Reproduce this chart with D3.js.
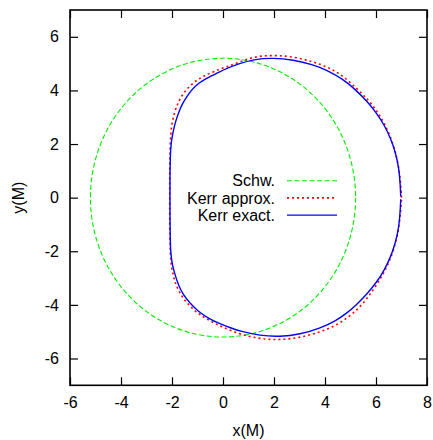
<!doctype html>
<html>
<head>
    <meta charset="utf-8"/>
    <style>
        html, body { margin: 0; padding: 0; background: #fff; }
        svg text { font-family: "Liberation Sans", Arial, sans-serif; font-size: 16px; fill: #000; }
    </style>
    <script src="https://d3js.org/d3.v7.min.js"></script>
</head>
<body>
<svg id="chart" width="433" height="440"></svg>
<script>
    // Orbit data (units of M), counter-clockwise from the right
    var schwRadius = [5.2];

    var kerrApproxX = [7.00, 6.97, 6.90, 6.78, 6.60, 6.36, 6.05, 5.70, 5.25, 4.72, 4.15, 3.54, 2.76, 1.97, 1.19, 0.60, 0.10, -0.35, -0.74, -1.07, -1.35, -1.58, -1.76, -1.90, -2.00, -2.05, -2.08, -2.09, -2.09,
        -2.09, -2.08, -2.05, -1.97, -1.86, -1.70, -1.48, -1.20, -0.88, -0.50, -0.05, 0.67, 1.45, 2.24, 3.02, 3.80, 4.40, 4.90, 5.35, 5.70, 6.05, 6.36, 6.60, 6.78, 6.90, 6.97, 7.00];
    var kerrApproxY = [0.00, 0.50, 1.10, 1.65, 2.20, 2.72, 3.22, 3.64, 4.07, 4.53, 4.86, 5.07, 5.26, 5.32, 5.26, 5.04, 4.87, 4.71, 4.55, 4.36, 4.12, 3.86, 3.55, 3.20, 2.78, 2.40, 1.78, 1.00, 0.00,
        -1.00, -1.78, -2.40, -2.85, -3.22, -3.55, -3.86, -4.14, -4.39, -4.60, -4.82, -5.10, -5.27, -5.31, -5.22, -5.02, -4.78, -4.48, -4.10, -3.70, -3.22, -2.72, -2.20, -1.65, -1.10, -0.50, -0.05];

    var kerrExactX = [6.97, 6.95, 6.90, 6.76, 6.58, 6.33, 6.03, 5.66, 5.20, 4.70, 4.10, 3.50, 2.76, 1.97, 1.19, 0.60, 0.14, -0.20, -0.64, -0.97, -1.23, -1.42, -1.62, -1.75, -1.88, -1.97, -2.04, -2.07, -2.08, -2.08,
        -2.08, -2.07, -2.05, -1.99, -1.88, -1.75, -1.56, -1.29, -0.97, -0.58, -0.12, 0.34, 0.67, 1.45, 2.24, 3.02, 3.80, 4.45, 4.85, 5.20, 5.66, 6.03, 6.33, 6.58, 6.76, 6.90, 6.95, 6.97];
    var kerrExactY = [0.04, 0.50, 1.10, 1.70, 2.20, 2.70, 3.15, 3.58, 4.03, 4.42, 4.75, 4.97, 5.14, 5.22, 5.16, 4.99, 4.82, 4.66, 4.46, 4.27, 4.02, 3.77, 3.46, 3.15, 2.78, 2.40, 2.03, 1.50, 0.75, 0.00,
        -0.75, -1.58, -2.07, -2.51, -2.88, -3.26, -3.63, -3.94, -4.25, -4.50, -4.71, -4.87, -4.98, -5.15, -5.19, -5.10, -4.88, -4.58, -4.31, -4.03, -3.58, -3.15, -2.70, -2.20, -1.70, -1.10, -0.50, -0.06];

    var xTicks = [-6, -4, -2, 0, 2, 4, 6, 8];
    var yTicks = [-6, -4, -2, 0, 2, 4, 6];
    var legendLabels = ["Schw.", "Kerr approx.", "Kerr exact."];

    (function() {
        var svg = d3.select("#chart");
        var mLeft = 70, mRight = 427, mTop = 10, mBottom = 385.3;

        var x = d3.scaleLinear().domain([-6, 8]).range([mLeft, mRight]);
        var y = d3.scaleLinear().domain([-7, 7]).range([mBottom, mTop]);

        var fmt = function(d) { return String(d); };

        // axes: ticks point inward on all four sides, gnuplot style
        var gb = svg.append("g").attr("transform", "translate(0," + mBottom + ")")
            .call(d3.axisBottom(x).tickValues(xTicks).tickSize(-8).tickPadding(11).tickFormat(fmt));
        var gt = svg.append("g").attr("transform", "translate(0," + mTop + ")")
            .call(d3.axisTop(x).tickValues(xTicks).tickSize(-8).tickFormat(""));
        var gl = svg.append("g").attr("transform", "translate(" + mLeft + ",0)")
            .call(d3.axisLeft(y).tickValues(yTicks).tickSize(-8).tickPadding(11).tickFormat(fmt));
        var gr = svg.append("g").attr("transform", "translate(" + mRight + ",0)")
            .call(d3.axisRight(y).tickValues(yTicks).tickSize(-8).tickFormat(""));

        [gb, gt, gl, gr].forEach(function(g) {
            g.select(".domain").remove();
            g.selectAll(".tick line").attr("stroke", "#000").attr("stroke-width", 1.2);
            g.selectAll(".tick text")
                .style("font-family", "'Liberation Sans', Arial, sans-serif")
                .style("font-size", "16px")
                .attr("fill", "#000");
        });

        svg.append("rect")
            .attr("x", mLeft).attr("y", mTop)
            .attr("width", mRight - mLeft).attr("height", mBottom - mTop)
            .attr("fill", "none").attr("stroke", "#000").attr("stroke-width", 1.6);

        // curves
        var plot = svg.append("g");

        plot.selectAll("ellipse.schw")
            .data(schwRadius).enter()
            .append("ellipse")
            .attr("class", "schw")
            .attr("cx", x(0)).attr("cy", y(0))
            .attr("rx", function(r) { return x(r) - x(0); })
            .attr("ry", function(r) { return y(0) - y(r); })
            .attr("fill", "none")
            .attr("stroke", "#00ee00")
            .attr("stroke-width", 1.1)
            .attr("stroke-dasharray", "5,2.5");

        function pts(xs, ys) {
            return xs.map(function(v, i) { return [v, ys[i]]; });
        }

        // B-spline smooths out the small reading errors in the points
        var line = d3.line()
            .x(function(d) { return x(d[0]); })
            .y(function(d) { return y(d[1]); })
            .curve(d3.curveBasis);

        plot.append("path")
            .datum(pts(kerrApproxX, kerrApproxY))
            .attr("d", line)
            .attr("fill", "none")
            .attr("stroke", "#ff0000")
            .attr("stroke-width", 1.6)
            .attr("stroke-dasharray", "2,3");

        plot.append("path")
            .datum(pts(kerrExactX, kerrExactY))
            .attr("d", line)
            .attr("fill", "none")
            .attr("stroke", "#0000ff")
            .attr("stroke-width", 1.4);

        // legend
        var legendStyles = [
            {stroke: "#00ee00", dash: "5,2.5", width: 1.1},
            {stroke: "#ff0000", dash: "2,3", width: 1.6},
            {stroke: "#0000ff", dash: null, width: 1.4}
        ];
        var rows = svg.append("g").selectAll("g").data(legendLabels).enter().append("g")
            .attr("transform", function(d, i) { return "translate(0," + (180.7 + i * 17.2) + ")"; });
        rows.append("text")
            .attr("x", 275)
            .attr("dy", "0.35em")
            .attr("text-anchor", "end")
            .text(function(d) { return d; });
        rows.append("line")
            .attr("x1", 287).attr("x2", 337)
            .attr("stroke", function(d, i) { return legendStyles[i].stroke; })
            .attr("stroke-width", function(d, i) { return legendStyles[i].width; })
            .attr("stroke-dasharray", function(d, i) { return legendStyles[i].dash; });

        // axis titles
        svg.append("text")
            .attr("x", (mLeft + mRight) / 2).attr("y", 436)
            .attr("text-anchor", "middle")
            .text("x(M)");
        svg.append("text")
            .attr("transform", "translate(24," + y(0) + ") rotate(-90)")
            .attr("text-anchor", "middle")
            .text("y(M)");
    })();
</script>
</body>
</html>
